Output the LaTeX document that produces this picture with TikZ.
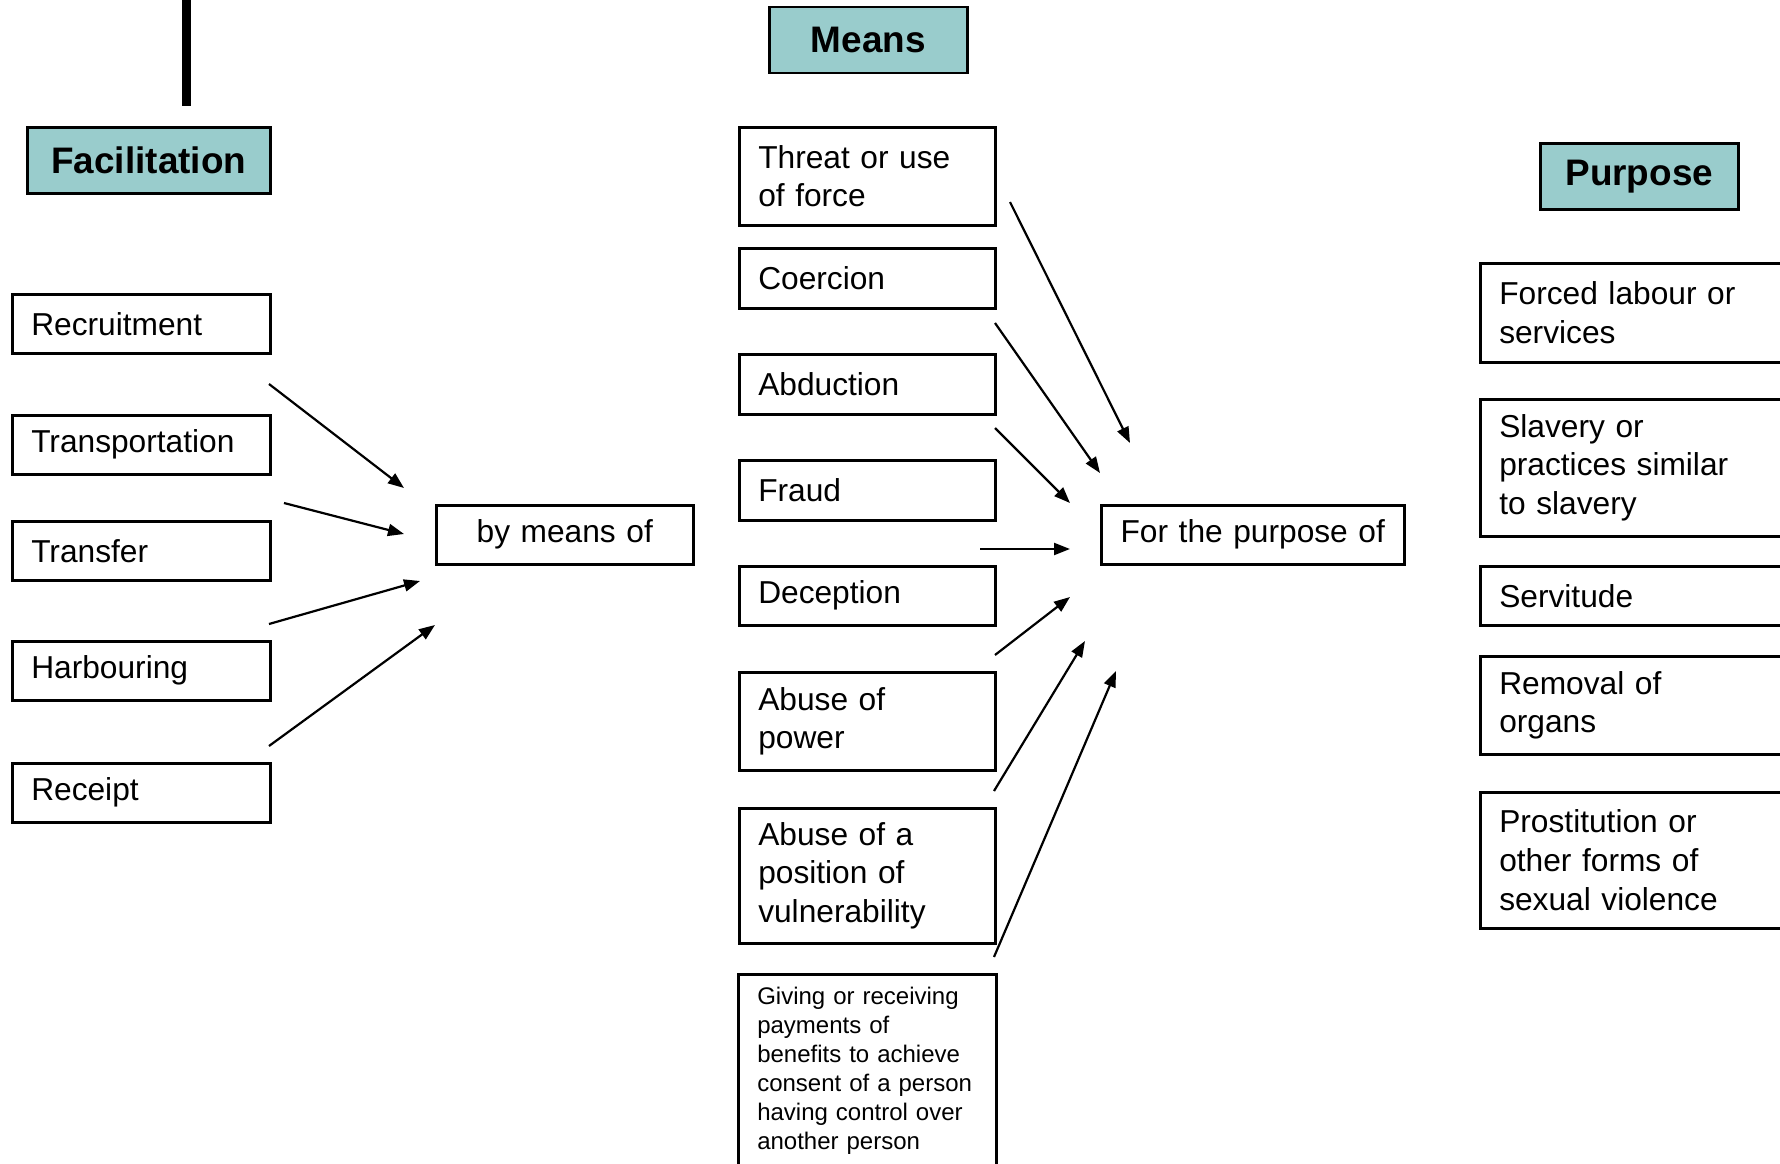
\documentclass[tikz,border=0pt]{standalone}
\usepackage{fontspec}
\setmainfont{Liberation Sans}
\usetikzlibrary{arrows.meta}
\definecolor{headteal}{RGB}{153,204,204}

\begin{document}
\begin{tikzpicture}[x=1pt,y=-1pt,
    itembox/.style={draw, line width=2.5pt, anchor=north west, align=left,
        inner xsep=19pt, inner ysep=0pt, font=\fontsize{31.7}{38.6}\selectfont},
    hubbox/.style={itembox, align=center},
    smallbox/.style={itembox, font=\fontsize{24}{29}\selectfont},
    headbox/.style={draw, line width=2.5pt, fill=headteal, anchor=north west,
        inner sep=0pt, font=\bfseries\fontsize{36.9}{44}\selectfont},
    link/.style={line width=2.2pt, -{Triangle[length=16pt,width=12pt]}}]
            \clip (0,0) rectangle (1780,1164);

            \draw[line width=9pt] (186,0) -- (186,106);

            % headings
            \node[headbox, minimum width=243pt, minimum height=66pt] (facil) at (26,126) {Facilitation};
            \node[headbox, minimum width=198pt, minimum height=66pt] (means) at (768,6) {Means};
            \node[headbox, minimum width=198pt, minimum height=66pt] (purpose) at (1539,142) {Purpose};

            % facilitation
            \node[itembox, text width=220pt, minimum height=59pt] (recruit) at (11,293) {Recruitment};
            \node[itembox, text width=220pt, minimum height=59pt] (transport) at (11,414) {Transportation};
            \node[itembox, text width=220pt, minimum height=59pt] (transfer) at (11,520) {Transfer};
            \node[itembox, text width=220pt, minimum height=59pt] (harbour) at (11,640) {Harbouring};
            \node[itembox, text width=220pt, minimum height=59pt] (receipt) at (11,762) {Receipt};

            \node[hubbox, text width=219pt, minimum height=59pt] (bymeans) at (435,504) {by means of};

            % means
            \node[itembox, text width=218pt, minimum height=98pt] (threat) at (738,126) {Threat or use\\of force};
            \node[itembox, text width=218pt, minimum height=60pt] (coerce) at (738,247) {Coercion};
            \node[itembox, text width=218pt, minimum height=60pt] (abduct) at (738,353) {Abduction};
            \node[itembox, text width=218pt, minimum height=60pt] (fraud) at (738,459) {Fraud};
            \node[itembox, text width=218pt, minimum height=59pt] (decept) at (738,565) {Deception};
            \node[itembox, text width=218pt, minimum height=98pt] (power) at (738,671) {Abuse of\\power};
            \node[itembox, text width=218pt, minimum height=135pt] (vulner) at (738,807) {Abuse of a\\position of\\vulnerability};
            \node[smallbox, text width=220pt, minimum height=194pt] (payment) at (737,973) {Giving or receiving\\payments of\\benefits to achieve\\consent of a person\\having control over\\another person};

            \node[hubbox, text width=265pt, minimum height=59pt] (forpurpose) at (1100,504) {For the purpose of};

            % purpose
            \node[itembox, text width=300pt, minimum height=99pt] (labour) at (1479,262) {Forced labour or\\services};
            \node[itembox, text width=300pt, minimum height=137pt] (slavery) at (1479,398) {Slavery or\\practices similar\\to slavery};
            \node[itembox, text width=300pt, minimum height=59pt] (servit) at (1479,565) {Servitude};
            \node[itembox, text width=300pt, minimum height=98pt] (organs) at (1479,655) {Removal of\\organs};
            \node[itembox, text width=300pt, minimum height=136pt] (prostit) at (1479,791) {Prostitution or\\other forms of\\sexual violence};

            % arrows to by means of
            \coordinate (fa1) at (269,384);  \coordinate (fb1) at (404,488);
            \coordinate (fa2) at (284,503);  \coordinate (fb2) at (404,534);
            \coordinate (fa3) at (269,624);  \coordinate (fb3) at (420,581);
            \coordinate (fa4) at (269,746);  \coordinate (fb4) at (435,625);
            \draw[link] (fa1) -- (fb1);
            \draw[link] (fa2) -- (fb2);
            \draw[link] (fa3) -- (fb3);
            \draw[link] (fa4) -- (fb4);

            % arrows to for the purpose of
            \coordinate (ma1) at (1010,202);  \coordinate (mb1) at (1130,443);
            \coordinate (ma2) at (995,323);   \coordinate (mb2) at (1100,473);
            \coordinate (ma3) at (995,428);   \coordinate (mb3) at (1070,503);
            \coordinate (ma4) at (980,549);   \coordinate (mb4) at (1070,549);
            \coordinate (ma5) at (995,655);   \coordinate (mb5) at (1070,597);
            \coordinate (ma6) at (994,791);   \coordinate (mb6) at (1085,641);
            \coordinate (ma7) at (994,957);   \coordinate (mb7) at (1116,671);
            \draw[link] (ma1) -- (mb1);
            \draw[link] (ma2) -- (mb2);
            \draw[link] (ma3) -- (mb3);
            \draw[link] (ma4) -- (mb4);
            \draw[link] (ma5) -- (mb5);
            \draw[link] (ma6) -- (mb6);
            \draw[link] (ma7) -- (mb7);
        \end{tikzpicture}
\end{document}
